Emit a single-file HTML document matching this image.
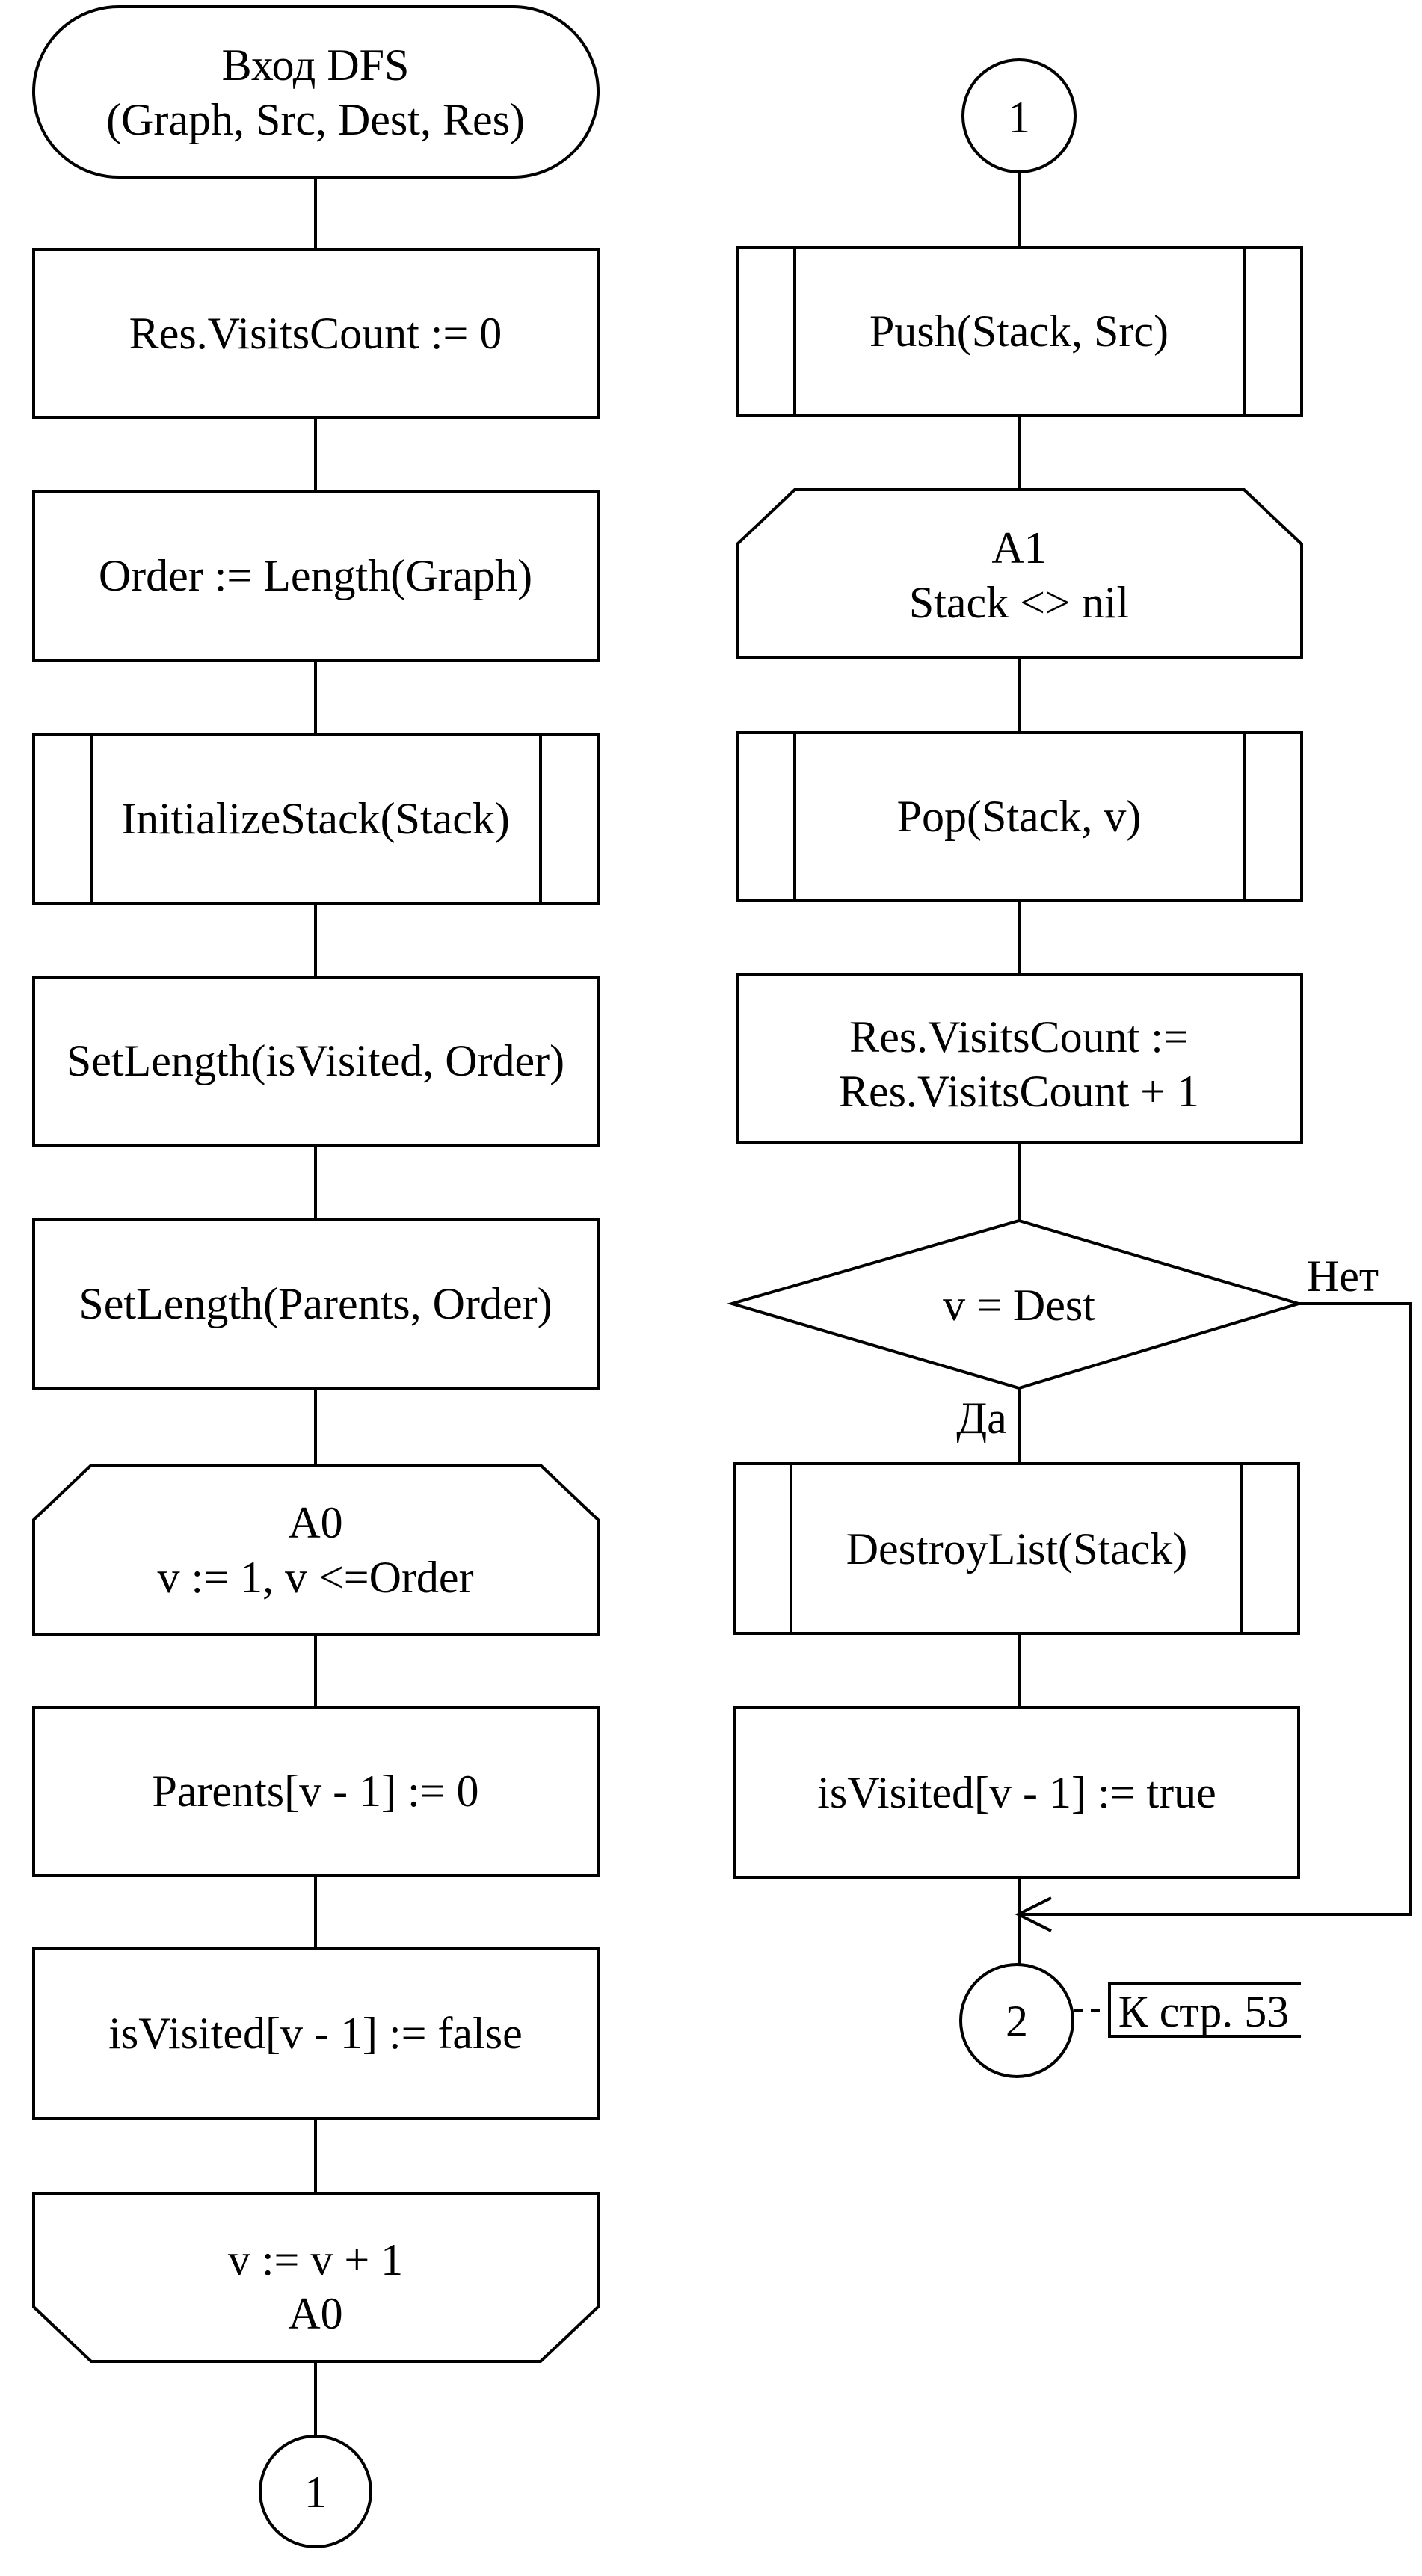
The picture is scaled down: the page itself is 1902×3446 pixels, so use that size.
<!DOCTYPE html>
<html><head><meta charset="utf-8"><style>
html,body{margin:0;padding:0;background:#fff;}
svg{display:block}
text{font-family:"Liberation Serif","DejaVu Serif",serif;font-size:60px;fill:#000;text-anchor:middle;}
</style></head><body>
<svg width="1902" height="3446" viewBox="0 0 1902 3446" xmlns="http://www.w3.org/2000/svg">
<g fill="none" stroke="#000" stroke-width="4">
<!-- left column connectors -->
<line x1="422" y1="237" x2="422" y2="3259"/>
<!-- right column connectors -->
<line x1="1363" y1="230" x2="1363" y2="2628"/>
</g>
<g fill="#fff" stroke="#000" stroke-width="4">
<!-- Terminator -->
<rect x="45" y="9" width="755" height="228" rx="114" ry="114"/>
<rect x="45" y="334" width="755" height="225"/>
<rect x="45" y="658" width="755" height="225"/>
<rect x="45" y="983" width="755" height="225"/>
<line x1="122" y1="983" x2="122" y2="1208"/>
<line x1="723" y1="983" x2="723" y2="1208"/>
<rect x="45" y="1307" width="755" height="225"/>
<rect x="45" y="1632" width="755" height="225"/>
<polygon points="122,1960 723,1960 800,2033 800,2186 45,2186 45,2033"/>
<rect x="45" y="2284" width="755" height="225"/>
<rect x="45" y="2607" width="755" height="227"/>
<polygon points="45,2934 800,2934 800,3086 723,3159 122,3159 45,3086"/>
<circle cx="422" cy="3333" r="74"/>

<!-- right column -->
<circle cx="1363" cy="155" r="75"/>
<rect x="986" y="331" width="755" height="225"/>
<line x1="1063" y1="331" x2="1063" y2="556"/>
<line x1="1664" y1="331" x2="1664" y2="556"/>
<polygon points="1063,655 1664,655 1741,728 1741,880 986,880 986,728"/>
<rect x="986" y="980" width="755" height="225"/>
<line x1="1063" y1="980" x2="1063" y2="1205"/>
<line x1="1664" y1="980" x2="1664" y2="1205"/>
<rect x="986" y="1304" width="755" height="225"/>
<polygon points="1363,1633 1737,1744 1363,1857 979,1744"/>
<rect x="982" y="1958" width="755" height="227"/>
<line x1="1058" y1="1958" x2="1058" y2="2185"/>
<line x1="1660" y1="1958" x2="1660" y2="2185"/>
<rect x="982" y="2284" width="755" height="227"/>
<circle cx="1360" cy="2703" r="75"/>
</g>
<g fill="none" stroke="#000" stroke-width="4">
<polyline points="1737,1744 1886,1744 1886,2561 1362,2561"/>
<polyline points="1406,2539 1362,2561 1406,2583"/>
<line x1="1437" y1="2690" x2="1471" y2="2690" stroke-dasharray="12,10"/>
<polyline points="1740,2653 1484,2653 1484,2724 1740,2724"/>
</g>
<text x="422" y="107">Вход DFS</text>
<text x="422" y="180">(Graph, Src, Dest, Res)</text>
<text x="422" y="466">Res.VisitsCount := 0</text>
<text x="422" y="790">Order := Length(Graph)</text>
<text x="422" y="1115">InitializeStack(Stack)</text>
<text x="422" y="1439">SetLength(isVisited, Order)</text>
<text x="422" y="1764">SetLength(Parents, Order)</text>
<text x="422" y="2057">A0</text>
<text x="422" y="2130">v := 1, v &lt;=Order</text>
<text x="422" y="2416">Parents[v - 1] := 0</text>
<text x="422" y="2740">isVisited[v - 1] := false</text>
<text x="422" y="3043">v := v + 1</text>
<text x="422" y="3115">A0</text>
<text x="422" y="3354">1</text>

<text x="1363" y="177">1</text>
<text x="1363" y="463">Push(Stack, Src)</text>
<text x="1363" y="753">A1</text>
<text x="1363" y="826">Stack &lt;&gt; nil</text>
<text x="1363" y="1112">Pop(Stack, v)</text>
<text x="1363" y="1407">Res.VisitsCount :=</text>
<text x="1363" y="1480">Res.VisitsCount + 1</text>
<text x="1363" y="1766">v = Dest</text>
<text x="1796" y="1727">Нет</text>
<text x="1313" y="1917">Да</text>
<text x="1360" y="2092">DestroyList(Stack)</text>
<text x="1360" y="2418">isVisited[v - 1] := true</text>
<text x="1360" y="2724">2</text>
<text x="1610" y="2711">К стр. 53</text>
</svg>
</body></html>
